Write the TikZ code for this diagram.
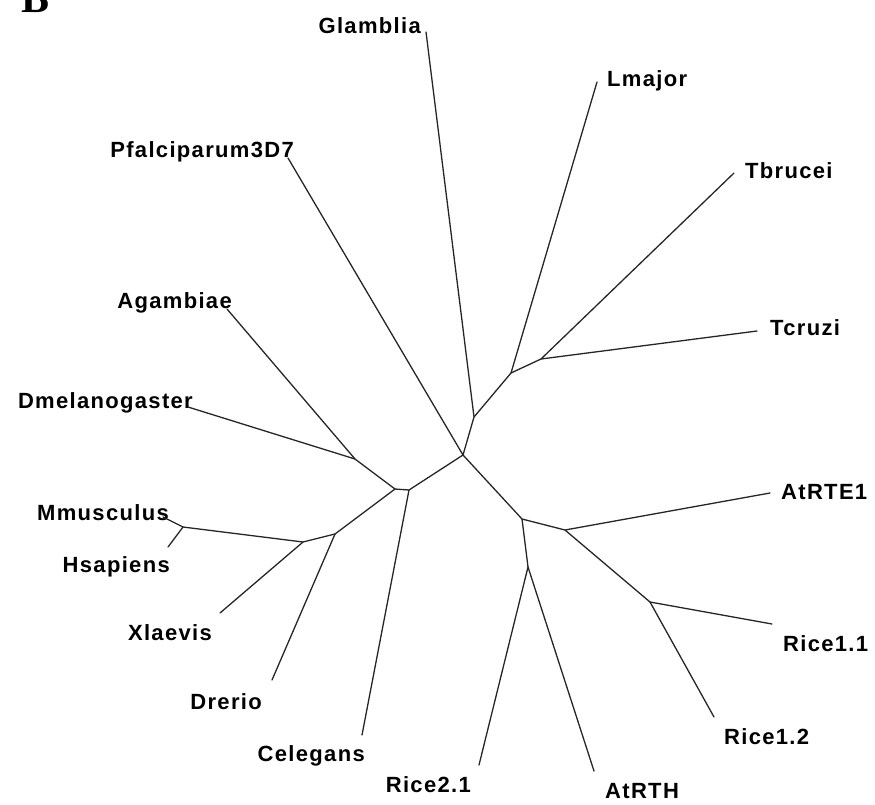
\documentclass[tikz,border=0pt]{standalone}
\usepackage{fontspec}
\setmainfont{Liberation Sans}
\newfontfamily\labfont{Liberation Sans}[LetterSpace=6]
\newfontfamily\panelfont{Liberation Serif}
\begin{document}
\begin{tikzpicture}[x=1pt,y=-1pt,
  branch/.style={draw=black!85,line width=1.3pt,line join=round,line cap=round},
  taxon/.style={inner sep=0pt,font=\labfont\fontsize{22}{26}\selectfont\bfseries},
  lefttaxon/.style={taxon,anchor=base east},
  righttaxon/.style={taxon,anchor=base west}]
\useasboundingbox (0,0) rectangle (875,804);
% panel letter
\node[inner sep=0pt,anchor=base west,font=\panelfont\fontsize{42}{46}\selectfont\bfseries] (panel) at (21,12) {B};
% internal nodes
\coordinate (C) at (463,455);
\coordinate (A1) at (474,417);
\coordinate (A2) at (511,373);
\coordinate (A3) at (541,359);
\coordinate (B1) at (409,490);
\coordinate (B1b) at (395,489);
\coordinate (DA) at (355,459);
\coordinate (V) at (335,534);
\coordinate (Vb) at (303,542);
\coordinate (MH) at (183,527);
\coordinate (R) at (522,519);
\coordinate (RA) at (565,530);
\coordinate (R1) at (650,602);
\coordinate (R2) at (528,567);
% tips
\coordinate (tGl) at (426,32);
\coordinate (tLm) at (597,82);
\coordinate (tTb) at (734,173);
\coordinate (tTc) at (757,331);
\coordinate (tPf) at (288,158);
\coordinate (tAg) at (227,309);
\coordinate (tDm) at (188,407);
\coordinate (tMm) at (163,517);
\coordinate (tHs) at (168,547);
\coordinate (tXl) at (220,613);
\coordinate (tDr) at (272,680);
\coordinate (tCe) at (362,735);
\coordinate (tR21) at (479,765);
\coordinate (tRTH) at (594,771);
\coordinate (tR12) at (714,717);
\coordinate (tR11) at (772,624);
\coordinate (tRTE) at (770,493);
% labels
\node[lefttaxon] (lGl) at (421,33) {Glamblia};
\node[righttaxon] (lLm) at (607,86) {Lmajor};
\node[righttaxon] (lTb) at (745,178) {Tbrucei};
\node[righttaxon] (lTc) at (770,335) {Tcruzi};
\node[lefttaxon] (lPf) at (294,157) {Pfalciparum3D7};
\node[lefttaxon] (lAg) at (232,308) {Agambiae};
\node[lefttaxon] (lDm) at (193,408) {Dmelanogaster};
\node[lefttaxon] (lMm) at (169,520) {Mmusculus};
\node[lefttaxon] (lHs) at (170,572) {Hsapiens};
\node[lefttaxon] (lXl) at (212,640) {Xlaevis};
\node[lefttaxon] (lDr) at (262,709) {Drerio};
\node[lefttaxon] (lCe) at (365,761) {Celegans};
\node[lefttaxon] (lR21) at (471,792) {Rice2.1};
\node[righttaxon] (lRTH) at (605,798) {AtRTH};
\node[righttaxon] (lR12) at (724,744) {Rice1.2};
\node[righttaxon] (lR11) at (783,651) {Rice1.1};
\node[righttaxon] (lRTE) at (781,499) {AtRTE1};
% branches
\draw[branch] (tGl) -- (A1) -- (C) -- (tPf);
\draw[branch] (A1) -- (A2) -- (tLm);
\draw[branch] (A2) -- (A3) -- (tTb);
\draw[branch] (A3) -- (tTc);
\draw[branch] (C) -- (B1) -- (tCe);
\draw[branch] (B1) -- (B1b) -- (DA) -- (tAg);
\draw[branch] (DA) -- (tDm);
\draw[branch] (B1b) -- (V) -- (tDr);
\draw[branch] (V) -- (Vb) -- (tXl);
\draw[branch] (Vb) -- (MH) -- (tMm);
\draw[branch] (MH) -- (tHs);
\draw[branch] (C) -- (R) -- (RA) -- (tRTE);
\draw[branch] (RA) -- (R1) -- (tR11);
\draw[branch] (R1) -- (tR12);
\draw[branch] (R) -- (R2) -- (tR21);
\draw[branch] (R2) -- (tRTH);
\end{tikzpicture}
\end{document}
